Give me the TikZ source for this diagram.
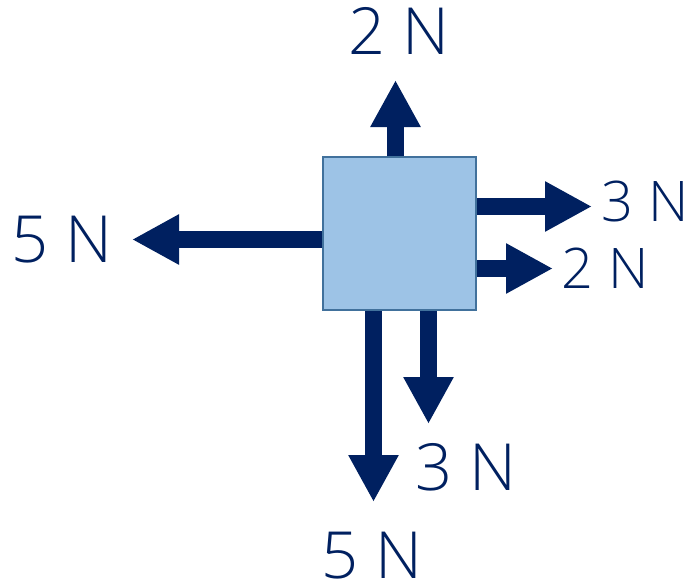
\documentclass[tikz,border=0pt]{standalone}
\usepackage{fontspec}
\setmainfont{Open Sans Light}
\usetikzlibrary{arrows.meta}
\definecolor{navy}{HTML}{002060}
\definecolor{boxfill}{HTML}{9DC3E6}
\definecolor{boxline}{HTML}{41719C}
\begin{document}
\begin{tikzpicture}[x=1pt,y=-1pt,
		force/.style={draw=navy,line width=16.5pt,-{Triangle[width=47pt,length=47pt]}},
		bigtxt/.style={inner sep=0pt,text=navy,font=\fontsize{65}{68}\selectfont},
		smalltxt/.style={inner sep=0pt,text=navy,font=\fontsize{56}{58}\selectfont}]
			\useasboundingbox (0,0) rectangle (689,587);
			\node [draw=boxline,fill=boxfill,line width=2pt,minimum size=153pt,inner sep=0pt] (box) at (399.5,233.5) {};
			\coordinate (tU) at (395.5,80);
			\coordinate (tR1) at (592,206.5);
			\coordinate (tR2) at (553,268.5);
			\coordinate (tL) at (132,239.5);
			\coordinate (tD1) at (373.5,502);
			\coordinate (tD2) at (428.5,424);
			\draw [force] (box.north -| tU)-- (tU);
			\draw [force] (box.east |- tR1)-- (tR1);
			\draw [force] (box.east |- tR2)-- (tR2);
			\draw [force] (box.west |- tL)-- (tL);
			\draw [force] (box.south -| tD1)-- (tD1);
			\draw [force] (box.south -| tD2)-- (tD2);
			\node [bigtxt] (lU) at (398.5,31) {2 N};
			\node [smalltxt] (lR1) at (645,201) {3 N};
			\node [smalltxt] (lR2) at (605,268) {2 N};
			\node [bigtxt] (lL) at (62,240) {5 N};
			\node [bigtxt] (lD1) at (372,556) {5 N};
			\node [bigtxt] (lD2) at (466,467.5) {3 N};
		\end{tikzpicture}
\end{document}
